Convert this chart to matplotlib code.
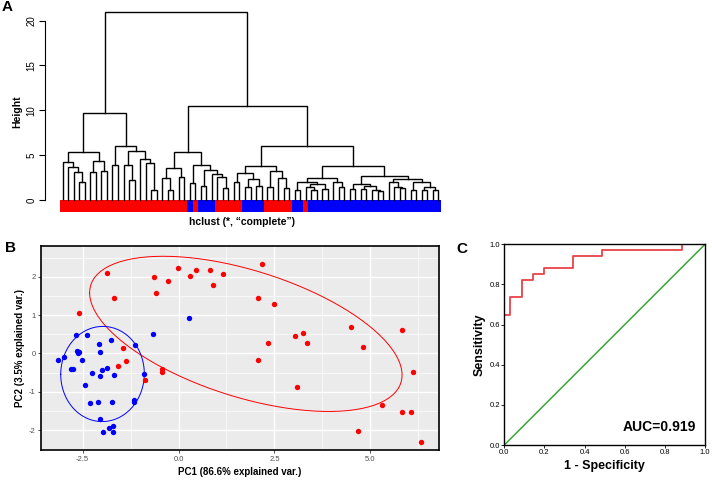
#!/usr/bin/env python3
"""
Three-panel figure: A) hierarchical clustering dendrogram with group bar,
B) PCA biplot with 68% normal ellipses, C) ROC curve.
"""

import numpy as np
import matplotlib as mpl
import matplotlib.pyplot as plt

# =========================================================================
# Data
# =========================================================================
L = None  # a leaf

# Dendrogram: [merge height, left, right]
TREE_A = [5.3, [4.2, L, [3.65, L, [3.15, L, [1.95, L, L]]]],
          [4.3, [3.1, L, L], [3.2, L, L]]]
TREE_B = [6.05, [3.95, L, L],
          [5.45, [3.85, L, [2.2, L, L]], [4.55, L, [4.1, L, [1.1, L, L]]]]]
TREE_M = [5.4, [3.55, [2.4, L, [1.1, L, L]], [2.55, L, L]],
          [3.95, [1.85, L, L],
           [3.35, [1.6, L, L], [2.95, L, [2.6, L, [1.3, L, L]]]]]]
TREE_R1 = [3.8, [3.0, [2.05, L, L], [2.3, [1.4, L, L], [1.6, L, L]]],
           [3.2, [1.4, L, L], [2.45, L, [1.35, L, L]]]]
TREE_R2 = [3.8,
           [2.5, [2.05, [1.15, L, L], [1.8, [1.45, L, [1.1, L, L]], [1.2, L, L]]],
            [2.05, L, [1.4, L, L]]],
           [2.65, [1.8, [1.2, L, L], [1.6, [1.2, L, L], [1.1, L, [1.0, L, L]]]],
            [2.35, [1.95, L, [1.4, L, [1.3, L, L]]],
             [2.0, [1.1, L, L], [1.5, [1.15, L, L], [1.1, L, L]]]]]]
TREE = [21.0, [9.65, TREE_A, TREE_B],
        [10.45, TREE_M, [6.0, TREE_R1, TREE_R2]]]

leaf_group = (["T"] * 23 + ["N"] + ["T"] + ["N"] * 3 + ["T"] * 5 + ["N"] * 4
              + ["T"] * 5 + ["N"] * 2 + ["T"] + ["N"] * 24)
height_ticks = [0, 5, 10, 15, 20]

# PCA scores
pc1_t = [-1.87, -1.67, -2.59, -0.64, -0.59, -0.27, -0.02, 0.30, 0.46, 0.81,
         0.91, 1.15, -1.45, -1.57, -1.36, -0.88, -0.44, -0.44,
         2.18, 2.06, 2.49, 4.51, 5.84, 3.04, 3.25, 2.34, 3.36, 4.80,
         2.07, 6.12, 3.08, 5.30, 5.84, 6.07, 4.68, 6.32]
pc2_t = [2.11, 1.45, 1.06, 1.99, 1.57, 1.90, 2.23, 2.01, 2.17, 2.17,
         1.78, 2.06, 0.15, -0.32, -0.21, -0.70, -0.41, -0.48,
         2.33, 1.44, 1.29, 0.69, 0.62, 0.46, 0.53, 0.28, 0.28, 0.18,
         -0.17, -0.49, -0.87, -1.35, -1.54, -1.52, -2.03, -2.31]
pc1_n = [-3.14, -2.98, -2.68, -2.64, -2.62, -2.60, -2.51, -2.80, -2.75, -2.38,
         -2.07, -2.04, -1.75, -1.13, -0.66, 0.28, -2.00, -1.87, -2.26, -2.04,
         -1.69, -2.43, -2.32, -2.11, -1.74, -1.17, -1.16, -2.04, -1.71, -1.82,
         -1.97, -1.71, -0.89]
pc2_n = [-0.17, -0.10, 0.47, 0.07, 0.01, 0.04, -0.16, -0.40, -0.40, 0.47,
         0.25, 0.04, 0.34, 0.22, 0.51, 0.93, -0.43, -0.39, -0.50, -0.60,
         -0.57, -0.83, -1.29, -1.28, -1.28, -1.22, -1.28, -1.72, -1.89, -1.94,
         -2.04, -2.05, -0.53]
pc1_ticks = [-2.5, 0.0, 2.5, 5.0]
pc2_ticks = [-2, -1, 0, 1, 2]

# ROC curve
fpr = [0.0, 0.0, 0.029, 0.086, 0.143, 0.200, 0.343, 0.486, 0.886, 1.0]
tpr = [0.0, 0.647, 0.735, 0.824, 0.853, 0.882, 0.941, 0.971, 1.0, 1.0]
auc_value = 0.919
roc_ticks = [0.0, 0.2, 0.4, 0.6, 0.8, 1.0]

# =========================================================================
# Style
# =========================================================================
mpl.rcParams.update({
    "font.family": ["Liberation Sans", "DejaVu Sans"],
    "font.size": 7,
})

RED = "#FF0000"
BLUE = "#0000FF"
GROUP_COLOR = {"T": RED, "N": BLUE}
PX_W, PX_H = 712, 480


def px_axes(fig, left, top, right, bottom):
    """Add axes from pixel box (origin top-left)."""
    return fig.add_axes([left / PX_W, 1 - bottom / PX_H,
                         (right - left) / PX_W, (bottom - top) / PX_H])


def panel_label(fig, x, y, text):
    fig.text(x / PX_W, 1 - y / PX_H, text, fontsize=11, fontweight="bold",
             ha="center", va="center")


def draw_node(ax, node, counter):
    if node is None:
        x = counter[0]
        counter[0] += 1
        return x, 0.0
    h, left, right = node
    xl, hl = draw_node(ax, left, counter)
    xr, hr = draw_node(ax, right, counter)
    ax.plot([xl, xl, xr, xr], [hl, h, h, hr], color="black", lw=1.0,
            solid_joinstyle="miter")
    return (xl + xr) / 2, h


def ellipse_68(x, y, n=100):
    """Normal-probability ellipse as in ggbiplot (prob = 0.68)."""
    x, y = np.asarray(x), np.asarray(y)
    sigma = np.cov(np.vstack([x, y]))
    mu = np.array([x.mean(), y.mean()])
    ed = np.sqrt(-2 * np.log(1 - 0.68))
    theta = np.linspace(-np.pi, np.pi, n)
    circle = np.column_stack([np.cos(theta), np.sin(theta)])
    pts = circle @ np.linalg.cholesky(sigma).T * ed + mu
    return pts[:, 0], pts[:, 1]


# =========================================================================
# A - dendrogram
# =========================================================================
def panel_dendrogram(fig):
    n_leaf = len(leaf_group)
    ax = px_axes(fig, 45, 8.9, 441, 212.1)
    draw_node(ax, TREE, [0])
    ax.bar(np.arange(n_leaf), 1.3, bottom=-1.3, width=1.0,
           color=[GROUP_COLOR[g] for g in leaf_group], linewidth=0)
    ax.set_xlim(-0.5 - 15 / 5.52, n_leaf - 0.5)
    ax.set_ylim(-1.35, 21.3)
    for side in ["top", "right", "bottom"]:
        ax.spines[side].set_visible(False)
    ax.spines["left"].set_bounds(0, 20)
    ax.set_xticks([])
    ax.set_yticks(height_ticks)
    ax.set_yticklabels([str(t) for t in height_ticks], rotation=90,
                       va="center", fontsize=7)
    ax.tick_params(axis="y", length=4, width=0.8, pad=2)
    fig.text(17 / PX_W, 1 - 112 / PX_H, "Height", rotation=90, fontsize=7.5,
             fontweight="bold", ha="center", va="center")
    fig.text(242 / PX_W, 1 - 222 / PX_H, "hclust (*, \u201ccomplete\u201d)",
             fontsize=7.5, fontweight="bold", ha="center", va="center")
    panel_label(fig, 7, 7, "A")


# =========================================================================
# B - PCA
# =========================================================================
def panel_pca(fig):
    ax = px_axes(fig, 41, 245.7, 439.3, 450)
    ax.set_facecolor("#EBEBEB")
    ax.set_xlim(-3.586, 6.80)
    ax.set_ylim(-2.52, 2.81)
    ax.set_xticks(pc1_ticks)
    ax.set_xticklabels([f"{t:.1f}" for t in pc1_ticks])
    ax.set_yticks(pc2_ticks)
    ax.set_yticklabels([str(t) for t in pc2_ticks])
    ax.set_xticks([-1.25, 1.25, 3.75, 6.25], minor=True)
    ax.set_yticks([-2.5, -1.5, -0.5, 0.5, 1.5, 2.5], minor=True)
    ax.grid(which="major", color="white", lw=1.0)
    ax.grid(which="minor", color="white", lw=0.5)
    ax.set_axisbelow(True)
    ax.tick_params(which="major", length=2.5, width=0.6, color="#333333",
                   labelcolor="#4D4D4D", labelsize=5.5, pad=1.5)
    ax.tick_params(which="minor", length=0)
    for sp in ax.spines.values():
        sp.set_color("black")
        sp.set_linewidth(1.2)

    ex, ey = ellipse_68(pc1_t, pc2_t)
    ax.plot(ex, ey, color=RED, lw=0.7)
    ex, ey = ellipse_68(pc1_n, pc2_n)
    ax.plot(ex, ey, color=BLUE, lw=0.7)
    ax.scatter(pc1_t, pc2_t, s=15, color=RED, linewidths=0, zorder=3)
    ax.scatter(pc1_n, pc2_n, s=15, color=BLUE, linewidths=0, zorder=3)

    ax.set_xlabel("PC1 (86.6% explained var.)", fontsize=7, fontweight="bold",
                  labelpad=3)
    ax.set_ylabel("PC2 (3.5% explained var.)", fontsize=7, fontweight="bold",
                  labelpad=3)
    panel_label(fig, 10, 248, "B")


# =========================================================================
# C - ROC
# =========================================================================
def panel_roc(fig):
    ax = px_axes(fig, 504.3, 244.3, 705, 445)
    ax.plot([0, 1], [0, 1], color="#2CA02C", lw=1.0)
    ax.step(fpr, tpr, where="post", color="#E8424A", lw=1.3)
    ax.set_xlim(0, 1)
    ax.set_ylim(0, 1)
    ax.set_xticks(roc_ticks)
    ax.set_yticks(roc_ticks)
    ax.set_xticklabels([f"{t:.1f}" for t in roc_ticks])
    ax.set_yticklabels([f"{t:.1f}" for t in roc_ticks])
    ax.tick_params(length=2, width=0.6, labelsize=5.5, pad=1)
    for sp in ax.spines.values():
        sp.set_linewidth(1.0)
    ax.text(0.955, 0.09, f"AUC={auc_value:.3f}", fontsize=10, fontweight="bold",
            ha="right", va="center")
    ax.set_xlabel("1 - Specificity", fontsize=9, fontweight="bold", labelpad=3)
    ax.set_ylabel("Sensitivity", fontsize=9, fontweight="bold", labelpad=3)
    panel_label(fig, 462, 249, "C")


def main():
    fig = plt.figure(figsize=(PX_W / 100, PX_H / 100), dpi=100)
    panel_dendrogram(fig)
    panel_pca(fig)
    panel_roc(fig)
    fig.savefig("out.png", dpi=100)
    plt.close(fig)


if __name__ == "__main__":
    main()
